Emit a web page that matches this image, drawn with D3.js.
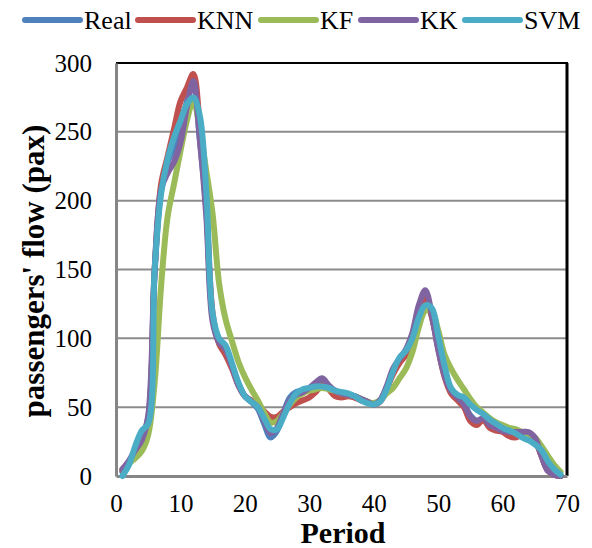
<!DOCTYPE html>
<html>
<head>
<meta charset="utf-8">
<script src="https://cdn.jsdelivr.net/npm/d3@7"></script>
<style>
  html, body { margin: 0; padding: 0; background: #fff; }
  svg { display: block; }
  svg text { font-family: "Liberation Serif", "Times New Roman", serif !important; fill: #000; }
</style>
</head>
<body>
<svg id="chart" width="592" height="548"></svg>
<script>
const periods = [1,2,3,4,5,6,7,8,9,10,11,12,13,14,15,16,17,18,19,20,21,22,23,24,25,26,27,28,29,30,31,32,33,34,35,36,37,38,39,40,41,42,43,44,45,46,47,48,49,50,51,52,53,54,55,56,57,58,59,60,61,62,63,64,65,66,67,68,69];

const real = [3,9,17,28,42,148,208,228,238,252,272,286,245,195,115,97,90,80,67,58,54,49,38,28,33,46,57,61,62,63,65,68,64,61,60,59,58,56,54,52,55,64,76,84,90,101,120,132,116,94,74,62,57,52,44,40,41,37,35,33,32,31,31,31,27,16,5,1,0];
const knn = [4,10,17,27,40,150,212,232,252,272,282,292,255,198,118,96,88,78,66,58,55,52,47,43,43,47,50,53,55,57,61,66,63,58,57,58,57,55,54,52,54,63,74,82,88,100,118,130,116,93,72,60,55,50,40,37,41,35,33,32,29,28,30,30,26,15,4,1,0];
const kf = [5,9,13,18,30,68,138,188,212,236,258,273,252,222,190,140,114,98,83,72,63,55,46,39,40,46,52,57,60,62,63,64,63,62,60,59,58,56,54,53,55,60,64,71,78,90,108,120,120,106,88,78,70,63,56,50,46,42,39,37,35,34,32,30,28,22,15,8,3];
const kk = [5,11,19,26,44,150,208,220,228,242,268,287,245,190,112,97,92,80,66,58,54,50,40,31,35,46,55,59,61,64,68,71,66,62,60,59,58,56,54,52,55,65,78,85,92,104,124,135,118,92,73,62,57,52,43,40,42,37,35,33,32,32,32,32,28,15,4,1,0];
const svm = [0,8,22,33,38,150,205,230,246,258,270,275,262,208,118,100,95,82,68,58,54,50,42,34,34,43,53,60,63,64,65,65,64,62,61,60,58,55,53,52,54,63,76,86,91,100,115,124,122,102,80,64,59,57,52,48,45,41,38,35,33,31,28,26,23,19,11,5,1];

const seriesNames = ["Real","KNN","KF","KK","SVM"];
const seriesColors = ["#4F81BD","#C0504D","#9BBB59","#8064A2","#4BACC6"];
const seriesValues = [real, knn, kf, kk, svm];

const yTicks = [0,50,100,150,200,250,300];
const xTicks = [0,10,20,30,40,50,60,70];
const xTitle = "Period";
const yTitle = "passengers' flow (pax)";

(function draw() {
const svg = d3.select("#chart");
const pLeft = 116, pRight = 567, pTop = 63, pBottom = 476;
const serif = "'Liberation Serif','Times New Roman',serif";

const x = d3.scaleLinear().domain([0,70]).range([pLeft,pRight]);
const y = d3.scaleLinear().domain([0,300]).range([pBottom,pTop]);

// gridlines
svg.append("g").selectAll("line").data(yTicks.filter(d => d > 0 && d < 300)).join("line")
  .attr("x1", pLeft).attr("x2", pRight)
  .attr("y1", d => y(d)).attr("y2", d => y(d))
  .attr("stroke", "#8c8c8c").attr("stroke-width", 2);

// plot border: top and right black
svg.append("line").attr("x1", pLeft).attr("x2", pRight+1).attr("y1", pTop).attr("y2", pTop)
  .attr("stroke", "#000").attr("stroke-width", 2);
svg.append("line").attr("x1", pRight).attr("x2", pRight).attr("y1", pTop).attr("y2", pBottom)
  .attr("stroke", "#000").attr("stroke-width", 3);

// axes (gray)
const yAxis = d3.axisLeft(y).tickValues(yTicks).tickSize(0).tickPadding(24);
const gy = svg.append("g").attr("transform", `translate(${pLeft},0)`).call(yAxis)
  .attr("font-family", serif);
gy.select(".domain").attr("stroke", "#868686").attr("stroke-width", 3);
gy.selectAll("text").style("font-size", "25px");

const xAxis = d3.axisBottom(x).tickValues(xTicks).tickSize(0).tickPadding(18);
const gx = svg.append("g").attr("transform", `translate(0,${pBottom})`).call(xAxis)
  .attr("font-family", serif);
gx.select(".domain").attr("stroke", "#868686").attr("stroke-width", 3);
gx.selectAll("text").style("font-size", "25px");

// lines
const line = d3.line()
  .x((d,i) => x(periods[i]))
  .y(d => y(d))
  .curve(d3.curveCatmullRom.alpha(0.5));

svg.append("g").selectAll("path").data(seriesValues).join("path")
  .attr("d", d => line(d))
  .attr("fill", "none")
  .attr("stroke", (d,i) => seriesColors[i])
  .attr("stroke-width", 6)
  .attr("stroke-linecap", "round")
  .attr("stroke-linejoin", "round");

// titles
svg.append("text").attr("x", 343).attr("y", 543).attr("text-anchor", "middle")
  .attr("font-family", serif)
  .style("font-size", "30px").style("font-weight", "bold").text(xTitle);
svg.append("text").attr("transform", "translate(44,271) rotate(-90)").attr("text-anchor", "middle")
  .attr("font-family", serif)
  .style("font-size", "31px").style("font-weight", "bold").text(yTitle);

// legend
const legendX = [25, 138, 261, 361, 465];
const lg = svg.append("g").attr("font-family", serif);
seriesNames.forEach((name, i) => {
  lg.append("line").attr("x1", legendX[i]).attr("x2", legendX[i] + 55)
    .attr("y1", 20).attr("y2", 20)
    .attr("stroke", seriesColors[i]).attr("stroke-width", 6).attr("stroke-linecap", "round");
  lg.append("text").attr("x", legendX[i] + 59).attr("y", 29)
    .style("font-size", "26px").text(name);
});
})();
</script>
</body>
</html>
